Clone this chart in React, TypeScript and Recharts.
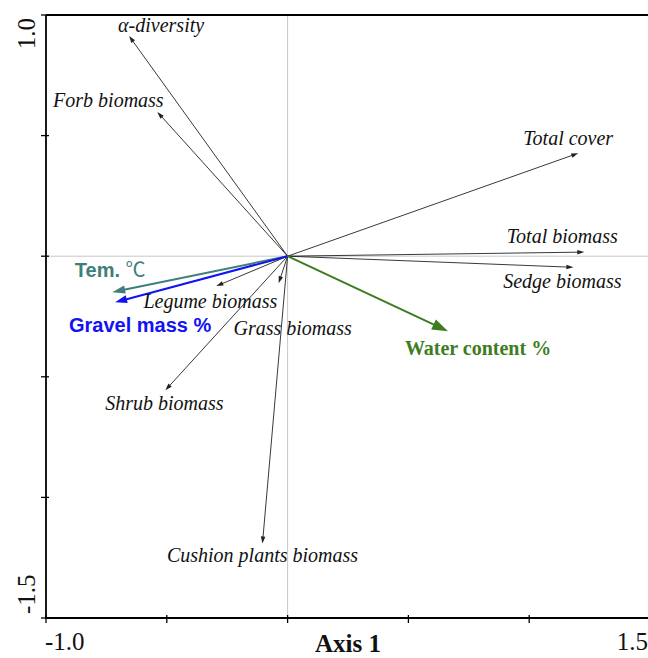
import React from 'react';
import { ScatterChart, Scatter, XAxis, YAxis, ReferenceLine } from 'recharts';

// Response variables (black arrows)
const responseNames = [
  'α-diversity',
  'Forb biomass',
  'Total cover',
  'Total biomass',
  'Sedge biomass',
  'Legume biomass',
  'Grass biomass',
  'Shrub biomass',
  'Cushion plants biomass',
];
const responseAxis1 = [-0.656, -0.539, 1.203, 1.228, 1.183, -0.295, -0.037, -0.506, -0.104];
const responseAxis2 = [0.913, 0.598, 0.427, 0.017, -0.046, -0.124, -0.112, -0.556, -1.191];

// Environmental variables (coloured arrows)
const envNames = ['Tem. ℃', 'Gravel mass %', 'Water content %'];
const envAxis1 = [-0.726, -0.714, 0.664];
const envAxis2 = [-0.149, -0.191, -0.311];

const xTicks = [-1, -0.5, 0, 0.5, 1, 1.5];
const yTicks = [-1.5, -1, -0.5, 0, 0.5, 1];
const xTickLabels: Record<string, string> = { '-1': '-1.0', '1.5': '1.5' };
const yTickLabels: Record<string, string> = { '1': '1.0', '-1.5': '-1.5' };

// ---- styles (not data) ----
const SERIF = '"Liberation Serif", "Times New Roman", serif';
const SANS = '"Liberation Sans", Arial, sans-serif';

type LabelStyle = { dx: number; dy: number; color: string; font: string; weight: string; italic: boolean; size: number };
const labelStyles: Record<string, LabelStyle> = {
  'α-diversity': { dx: 32, dy: -4, color: '#111', font: SERIF, weight: 'normal', italic: true, size: 20 },
  'Forb biomass': { dx: -49, dy: -5, color: '#111', font: SERIF, weight: 'normal', italic: true, size: 20 },
  'Total cover': { dx: -10, dy: -8, color: '#111', font: SERIF, weight: 'normal', italic: true, size: 20 },
  'Total biomass': { dx: -22, dy: -9, color: '#111', font: SERIF, weight: 'normal', italic: true, size: 20 },
  'Sedge biomass': { dx: -11, dy: 21, color: '#111', font: SERIF, weight: 'normal', italic: true, size: 20 },
  'Legume biomass': { dx: -6, dy: 22, color: '#111', font: SERIF, weight: 'normal', italic: true, size: 20 },
  'Grass biomass': { dx: 14, dy: 52, color: '#111', font: SERIF, weight: 'normal', italic: true, size: 20 },
  'Shrub biomass': { dx: -1, dy: 20, color: '#111', font: SERIF, weight: 'normal', italic: true, size: 20 },
  'Cushion plants biomass': { dx: 0, dy: 19, color: '#111', font: SERIF, weight: 'normal', italic: true, size: 20 },
  'Tem. ℃': { dx: -2, dy: -15, color: '#3f7f7b', font: SANS, weight: 'bold', italic: false, size: 20 },
  'Gravel mass %': { dx: 25, dy: 30, color: '#1212f2', font: SANS, weight: 'bold', italic: false, size: 20 },
  'Water content %': { dx: 30, dy: 24, color: '#3d7d1f', font: SERIF, weight: 'bold', italic: false, size: 20 },
};

type ArrowStyle = { color: string; width: number; headLen: number; headW: number };
const blackArrow: ArrowStyle = { color: '#222', width: 0.9, headLen: 7, headW: 4.5 };
const envArrowStyles: Record<string, ArrowStyle> = {
  'Tem. ℃': { color: '#3f7f7b', width: 2, headLen: 13, headW: 8 },
  'Gravel mass %': { color: '#1212f2', width: 2, headLen: 12, headW: 8 },
  'Water content %': { color: '#3d7d1f', width: 2, headLen: 16, headW: 11 },
};

const rows = [
  ...responseNames.map((name, i) => ({ name, x: responseAxis1[i], y: responseAxis2[i] })),
  ...envNames.map((name, i) => ({ name, x: envAxis1[i], y: envAxis2[i] })),
];

const Arrow = ({ x1, y1, x2, y2, st }: any) => {
  const dx = x2 - x1;
  const dy = y2 - y1;
  const len = Math.sqrt(dx * dx + dy * dy) || 1;
  const ux = dx / len;
  const uy = dy / len;
  const bx = x2 - ux * st.headLen;
  const by = y2 - uy * st.headLen;
  const nx = -uy * (st.headW / 2);
  const ny = ux * (st.headW / 2);
  return (
    <g>
      <line x1={x1} y1={y1} x2={bx + ux * 1} y2={by + uy * 1} stroke={st.color} strokeWidth={st.width} />
      <polygon points={`${x2},${y2} ${bx + nx},${by + ny} ${bx - nx},${by - ny}`} fill={st.color} stroke="none" />
    </g>
  );
};

const LabelShape = (props: any) => {
  const { cx, cy, payload } = props;
  const name = payload?.name;
  const st = labelStyles[name];
  if (!st || cx == null || cy == null) return <g />;
  const common = {
    x: cx + st.dx,
    y: cy + st.dy,
    textAnchor: 'middle' as const,
    fill: st.color,
    fontFamily: st.font,
    fontWeight: st.weight,
    fontStyle: st.italic ? 'italic' : 'normal',
    fontSize: st.size,
  };
  if (name.includes('℃')) {
    const [pre] = name.split('℃');
    return (
      <text {...common}>
        {pre}
        <tspan fontWeight="normal" fontFamily='"Noto Sans CJK SC", "DejaVu Sans", sans-serif'>℃</tspan>
      </text>
    );
  }
  return <text {...common}>{name}</text>;
};

const YTick = (props: any) => {
  const { x, y, payload } = props;
  const v = payload?.value;
  const label = yTickLabels[String(v)];
  const tx = x - 11;
  const ty = v === 1 ? y + 3 : y - 4;
  return (
    <g>
      <line x1={x - 5} x2={x + 3} y1={y} y2={y} stroke="#000" strokeWidth={1.3} />
      {label && (
        <text
          x={tx}
          y={ty}
          transform={`rotate(-90 ${tx} ${ty})`}
          textAnchor={v === 1 ? 'end' : 'start'}
          fontFamily={SERIF}
          fontSize={25}
          fill="#111"
        >
          {label}
        </text>
      )}
    </g>
  );
};

const XTick = (props: any) => {
  const { x, y, payload } = props;
  const v = payload?.value;
  const label = xTickLabels[String(v)];
  return (
    <g>
      <line x1={x} x2={x} y1={y - 3} y2={y + 5} stroke="#000" strokeWidth={1.3} />
      {label && (
        <text
          x={v === 1.5 ? x - 2 : x - 1}
          y={y + 32}
          textAnchor={v === 1.5 ? 'end' : 'start'}
          fontFamily={SERIF}
          fontSize={25}
          fill="#111"
        >
          {label}
        </text>
      )}
    </g>
  );
};

export default function App() {
  return (
    <div style={{ position: 'absolute', left: 0, top: 0, width: 648, height: 658, overflow: 'hidden' }}>
      <ScatterChart width={648} height={658} margin={{ top: 15, right: -2, bottom: 0, left: 0 }}>
        <XAxis
          type="number"
          dataKey="x"
          domain={[-1, 1.5]}
          ticks={xTicks}
          interval={0}
          allowDataOverflow
          height={40}
          tickSize={0}
          tickMargin={0}
          tickLine={false}
          tick={<XTick />}
          axisLine={{ stroke: '#000', strokeWidth: 1.8 }}
          label={{ value: 'Axis 1', position: 'insideBottom', offset: 6, fontFamily: SERIF, fontSize: 25, fontWeight: 'bold', fill: '#111' }}
        />
        <YAxis
          type="number"
          dataKey="y"
          domain={[-1.5, 1]}
          ticks={yTicks}
          interval={0}
          allowDataOverflow
          width={46}
          tickSize={0}
          tickMargin={0}
          tickLine={false}
          tick={<YTick />}
          axisLine={{ stroke: '#000', strokeWidth: 1.8 }}
        />
        <ReferenceLine x={0} stroke="#c8c8c8" strokeWidth={1} />
        <ReferenceLine y={0} stroke="#c8c8c8" strokeWidth={1} />
        <ReferenceLine y={1} stroke="#000" strokeWidth={1.8} />
        {responseNames.map((name, i) => (
          <ReferenceLine
            key={name}
            segment={[{ x: 0, y: 0 }, { x: responseAxis1[i], y: responseAxis2[i] }]}
            shape={(p: any) => <Arrow {...p} st={blackArrow} />}
          />
        ))}
        {envNames.map((name, i) => (
          <ReferenceLine
            key={name}
            segment={[{ x: 0, y: 0 }, { x: envAxis1[i], y: envAxis2[i] }]}
            shape={(p: any) => <Arrow {...p} st={envArrowStyles[name]} />}
          />
        ))}
        <Scatter data={rows} isAnimationActive={false} shape={<LabelShape />} />
      </ScatterChart>
    </div>
  );
}
